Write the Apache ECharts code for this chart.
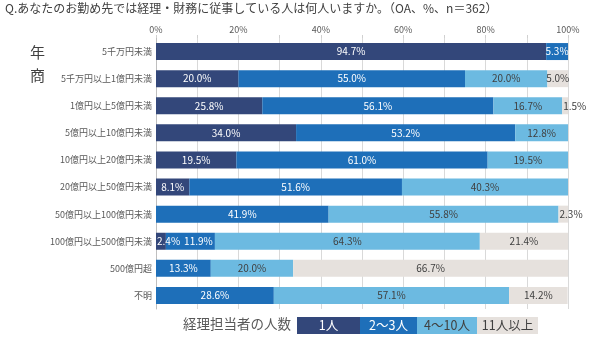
<!DOCTYPE html>
<html><head><meta charset="utf-8">
<script src="https://cdn.jsdelivr.net/npm/echarts@6/dist/echarts.min.js"></script>
<style>html,body{margin:0;padding:0;background:#fff}#c{width:590px;height:341px}</style>
</head><body><div id="c"></div>
<script>
const categories = ['5千万円未満','5千万円以上1億円未満','1億円以上5億円未満','5億円以上10億円未満','10億円以上20億円未満','20億円以上50億円未満','50億円以上100億円未満','100億円以上500億円未満','500億円超','不明'];
const one = [94.7, 20.0, 25.8, 34.0, 19.5, 8.1, 0, 2.4, 0, 0];
const twoThree = [5.3, 55.0, 56.1, 53.2, 61.0, 51.6, 41.9, 11.9, 13.3, 28.6];
const fourTen = [0, 20.0, 16.7, 12.8, 19.5, 40.3, 55.8, 64.3, 20.0, 57.1];
const elevenPlus = [0, 5.0, 1.5, 0, 0, 0, 2.3, 21.4, 66.7, 14.2];
const seriesNames = ['1人','2～3人','4～10人','11人以上'];
const colors = ['#33477a','#1e6fb9','#6cbae1','#e6e1dd'];
const labelColors = ['#ffffff','#ffffff','#404040','#404040'];
const FONT = '"Noto Sans CJK JP", "Noto Sans", sans-serif';
const all = [one, twoThree, fourTen, elevenPlus];

const chart = echarts.init(document.getElementById('c'));
function mk(vals, i){
  return {
    name: seriesNames[i], type:'bar', stack:'t', barWidth:17,
    itemStyle:{color:colors[i]},
    data: vals.map((v, r) => {
      const d = {value:v};
      if (v === 0) d.label = {show:false};
      else if (v < 3) d.label = {position:'insideLeft', distance:1};
      else if (i > 0 && all[i-1][r] > 0 && all[i-1][r] < 3) d.label = {offset:[8,0]};
      return d;
    }),
    label:{show:true, position:'inside', color:labelColors[i], fontSize:10, fontFamily:FONT,
      formatter: p => p.value.toFixed(1)+'%'}
  };
}
const ly = 317, lh = 17;
const legendBoxes = [[297,63],[360,57],[417,60],[477,61]];
const gfx = [
  {type:'text', left:5, top:2, style:{text:'Q.あなたのお勤め先では経理・財務に従事している人は何人いますか。（OA、%、n＝362）', fontSize:12, fill:'#404040', fontFamily:FONT}},
  {type:'text', left:30, top:45, style:{text:'年', fontSize:15, fill:'#404040', fontFamily:FONT}},
  {type:'text', left:30, top:68, style:{text:'商', fontSize:15, fill:'#404040', fontFamily:FONT}},
  {type:'text', left:183, top:ly, style:{text:'経理担当者の人数', fontSize:13.5, fill:'#595959', fontFamily:FONT}}
];
legendBoxes.forEach((b,i)=>{
  gfx.push({type:'rect', shape:{x:b[0], y:ly, width:b[1], height:lh}, style:{fill:colors[i]}});
  gfx.push({type:'text', x:b[0]+b[1]/2, y:ly+lh/2, style:{text:seriesNames[i], fontSize:12.5, fill:labelColors[i], fontFamily:FONT, align:'center', verticalAlign:'middle'}});
});
chart.setOption({
  animation:false,
  textStyle:{fontFamily:FONT},
  grid:{left:156, right:22, top:38, bottom:32, containLabel:false},
  xAxis:{type:'value', position:'top', min:0, max:100, interval:10,
    axisLine:{show:false},
    axisTick:{show:true, length:3, lineStyle:{color:'#d0d0d0'}},
    splitLine:{show:true, lineStyle:{color:'#d9d9d9', width:1}},
    axisLabel:{interval:1, formatter: v => (v%20===0? v+'%' : ''), color:'#595959', fontSize:9, margin:4}},
  yAxis:{type:'category', data:categories, inverse:true,
    axisLine:{show:true, lineStyle:{color:'#bfbfbf'}}, axisTick:{show:false},
    axisLabel:{color:'#595959', fontSize:9, margin:4}},
  series:[mk(one,0), mk(twoThree,1), mk(fourTen,2), mk(elevenPlus,3)],
  graphic: gfx
});
</script></body></html>
